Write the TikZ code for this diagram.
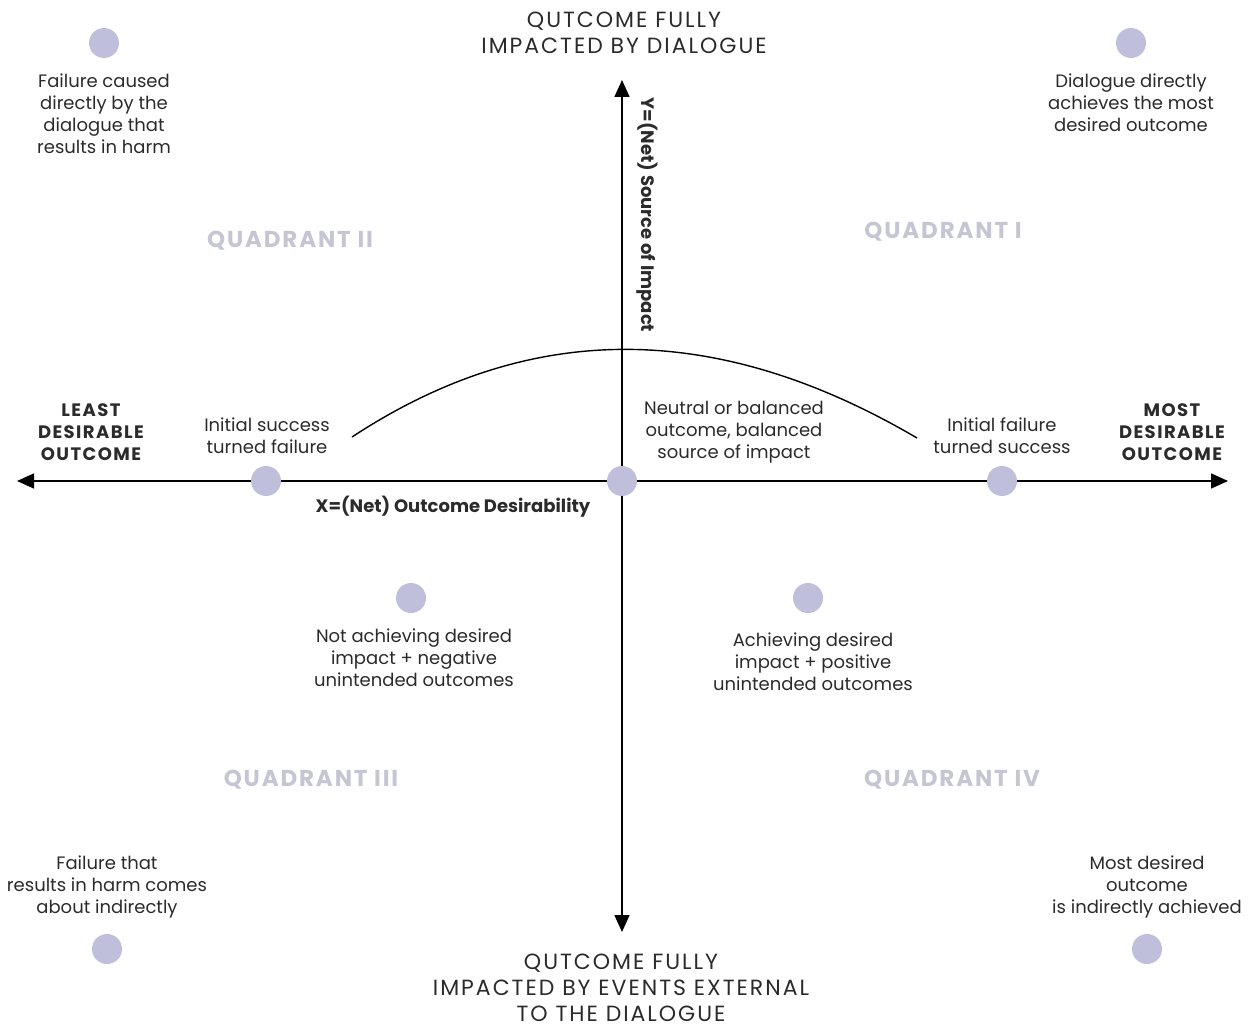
\documentclass[tikz,border=0pt]{standalone}
\usepackage{fontspec}
\setmainfont{Poppins}
\usetikzlibrary{arrows.meta}
\definecolor{dotc}{HTML}{BFBEDB}
\definecolor{quadc}{HTML}{C6C5D4}
\definecolor{txt}{HTML}{2B2B2B}
\tikzset{
  dot/.style={circle,fill=dotc,minimum size=30pt,inner sep=0pt},
  lbl/.style={align=center,text=txt,font=\fontsize{18}{22}\selectfont,inner sep=0pt},
  hd/.style={align=center,text=txt,font=\fontsize{22}{26}\selectfont\addfontfeature{LetterSpace=9},inner sep=0pt},
  bl/.style={align=center,text=txt,font=\bfseries\fontsize{18}{22}\selectfont\addfontfeature{LetterSpace=8},inner sep=0pt},
  axl/.style={text=txt,font=\bfseries\fontsize{18}{22}\selectfont,inner sep=0pt},
  quad/.style={text=quadc,font=\bfseries\fontsize{23}{24}\selectfont\addfontfeature{LetterSpace=8},inner sep=0pt},
  axis/.style={line width=1.6pt,-{Triangle[length=17pt,width=15pt]}},
}
\begin{document}
\begin{tikzpicture}[x=1pt,y=-1pt]
\useasboundingbox (0,0) rectangle (1251,1027);
% axes
\coordinate (xl) at (17,481);
\coordinate (xr) at (1228,481);
\coordinate (yt) at (622,80);
\coordinate (yb) at (622,932);
\coordinate (o) at (622,481);
\draw[axis] (o) -- (xl);
\draw[axis] (o) -- (xr);
\draw[axis] (o) -- (yt);
\draw[axis] (o) -- (yb);
% curve
\coordinate (cs) at (352,437);
\coordinate (ce) at (917,438);
\draw[line width=1.4pt,black] (cs) .. controls (530,320) and (716,320) .. (ce);
% dots
\node[dot] (d1) at (104,43) {};
\node[dot] (d2) at (1131,43) {};
\node[dot] (d3) at (266,481) {};
\node[dot] (d4) at (622,481) {};
\node[dot] (d5) at (1002,481) {};
\node[dot] (d6) at (411,598) {};
\node[dot] (d7) at (808,598) {};
\node[dot] (d8) at (107,949) {};
\node[dot] (d9) at (1147,949) {};
% headings
\node[hd] (top) at (624,33) {QUTCOME FULLY\\IMPACTED BY DIALOGUE};
\node[hd] (bot) at (621,988) {QUTCOME FULLY\\IMPACTED BY EVENTS EXTERNAL\\TO THE DIALOGUE};
% corner labels
\node[lbl] (t1) at (104,114) {Failure caused\\directly by the\\dialogue that\\results in harm};
\node[lbl] (t2) at (1131,103) {Dialogue directly\\achieves the most\\desired outcome};
\node[lbl] (t8) at (107,887) {Failure that\\results in harm comes\\about indirectly};
\node[lbl] (t9) at (1147,887) {Most desired\\outcome\\is indirectly achieved};
% axis labels
\node[bl] (least) at (91,432) {LEAST\\DESIRABLE\\OUTCOME};
\node[bl] (most) at (1172,432) {MOST\\DESIRABLE\\OUTCOME};
\node[lbl] (t3) at (267,436) {Initial success\\turned failure};
\node[lbl] (t4) at (734,432) {Neutral or balanced\\outcome, balanced\\source of impact};
\node[lbl] (t5) at (1002,436) {Initial failure\\turned success};
\node[axl] (xlab) at (453,507) {X=(Net) Outcome Desirability};
\node[axl,rotate=-90] (ylab) at (647,215) {Y=(Net) Source of Impact};
\node[lbl] (t6) at (414,658) {Not achieving desired\\impact + negative\\unintended outcomes};
\node[lbl] (t7) at (813,662) {Achieving desired\\impact + positive\\unintended outcomes};
% quadrants
\node[quad] (q1) at (943,232) {QUADRANT I};
\node[quad] (q2) at (290,241) {QUADRANT II};
\node[quad] (q3) at (311,780) {QUADRANT III};
\node[quad] (q4) at (952,780) {QUADRANT IV};
\end{tikzpicture}
\end{document}
